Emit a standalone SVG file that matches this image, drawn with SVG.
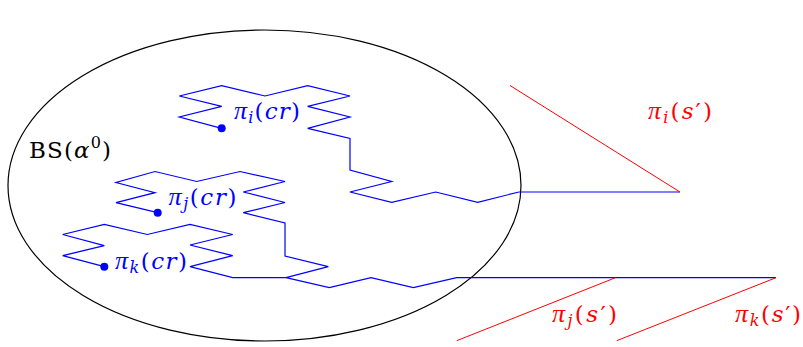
<svg xmlns="http://www.w3.org/2000/svg" width="803" height="347" viewBox="0 0 803 347">
<style>
.t{font-family:"DejaVu Serif","Liberation Serif",serif;font-size:23px}
.it{font-style:italic}
.pi{font-family:"Liberation Serif","DejaVu Serif",serif;font-style:italic;font-size:26px}
.sub{font-size:16px;font-style:italic}
.blue{fill:#0000ff}
.red{fill:#ff0000}
.bp{fill:none;stroke:#0000ff;stroke-width:1.2;stroke-linejoin:miter}
.rl{fill:none;stroke:#ff0000;stroke-width:1}
</style>
<rect width="803" height="347" fill="#ffffff"/>
<g id="bs">
<ellipse cx="264.5" cy="185.5" rx="256.5" ry="155.5" fill="none" stroke="#000000" stroke-width="1.2"/>
<text class="t" x="29" y="158" fill="#000000" textLength="82" lengthAdjust="spacing">BS(<tspan class="it">α</tspan><tspan font-size="16" dy="-10">0</tspan><tspan dy="10">)</tspan></text>
</g>
<g id="connectors">
<path class="bp" d="M221.7,128.3 L179.3,117 L221.7,106.3 L179.3,96 L221.7,85.7 L265,96 L307.7,85.7 L350,96 L307.7,106.3 L350,117 L307.7,128.3 L350,138.5 L350,170 L391.7,181.5 L350,192 L391.7,202.3 L435.7,192 L477.7,202.3 L519,192 L680,192"/>
<path class="bp" d="M157.7,212.7 L116,202.7 L155,192.7 L116,182.5 L155,171.5 L196.7,181.5 L240,171.5 L285,181.5 L243.3,192 L285,202.5 L243.3,212.7 L285,223 L285,256 L328.3,266.7 L286,277.7 L329.3,287.7 L371,277.7 L413.3,287.7 L456.7,277.7 L776,277.7"/>
<path class="bp" d="M104.3,266.7 L62.7,255.7 L104.3,245.7 L62.7,234.5 L104.3,224.3 L147.3,234.5 L190,224.3 L232.7,234.5 L190,245 L232.7,255.7 L190,266.7 L232.7,277.7 L286,277.7"/>
<line class="rl" x1="510" y1="85.5" x2="680" y2="192"/>
<line class="rl" x1="456.7" y1="340.7" x2="615.5" y2="277.7"/>
<line class="rl" x1="616.7" y1="340.7" x2="776" y2="277.7"/>
</g>
<g id="pi-i-cr">
<circle cx="221.7" cy="128.3" r="4" fill="#0000ff"/>
<text class="t blue" x="234" y="119" textLength="66" lengthAdjust="spacing"><tspan class="pi">π</tspan><tspan class="sub" dy="4">i</tspan><tspan dy="-4">(</tspan><tspan class="it">cr</tspan>)</text>
</g>
<g id="pi-j-cr">
<circle cx="157.7" cy="212.7" r="4" fill="#0000ff"/>
<text class="t blue" x="168.5" y="205" textLength="68" lengthAdjust="spacing"><tspan class="pi">π</tspan><tspan class="sub" dy="4">j</tspan><tspan dy="-4">(</tspan><tspan class="it">cr</tspan>)</text>
</g>
<g id="pi-k-cr">
<circle cx="104.3" cy="266.7" r="4" fill="#0000ff"/>
<text class="t blue" x="115" y="268.5" textLength="72" lengthAdjust="spacing"><tspan class="pi">π</tspan><tspan class="sub" dy="4">k</tspan><tspan dy="-4">(</tspan><tspan class="it">cr</tspan>)</text>
</g>
<g id="pi-i-s">
<text class="t red" x="648" y="119" textLength="64" lengthAdjust="spacing"><tspan class="pi">π</tspan><tspan class="sub" dy="4">i</tspan><tspan dy="-4">(</tspan><tspan class="it">s</tspan>′)</text>
</g>
<g id="pi-j-s">
<text class="t red" x="552" y="322" textLength="65" lengthAdjust="spacing"><tspan class="pi">π</tspan><tspan class="sub" dy="4">j</tspan><tspan dy="-4">(</tspan><tspan class="it">s</tspan>′)</text>
</g>
<g id="pi-k-s">
<text class="t red" x="735" y="322" textLength="66" lengthAdjust="spacing"><tspan class="pi">π</tspan><tspan class="sub" dy="4">k</tspan><tspan dy="-4">(</tspan><tspan class="it">s</tspan>′)</text>
</g>
</svg>
